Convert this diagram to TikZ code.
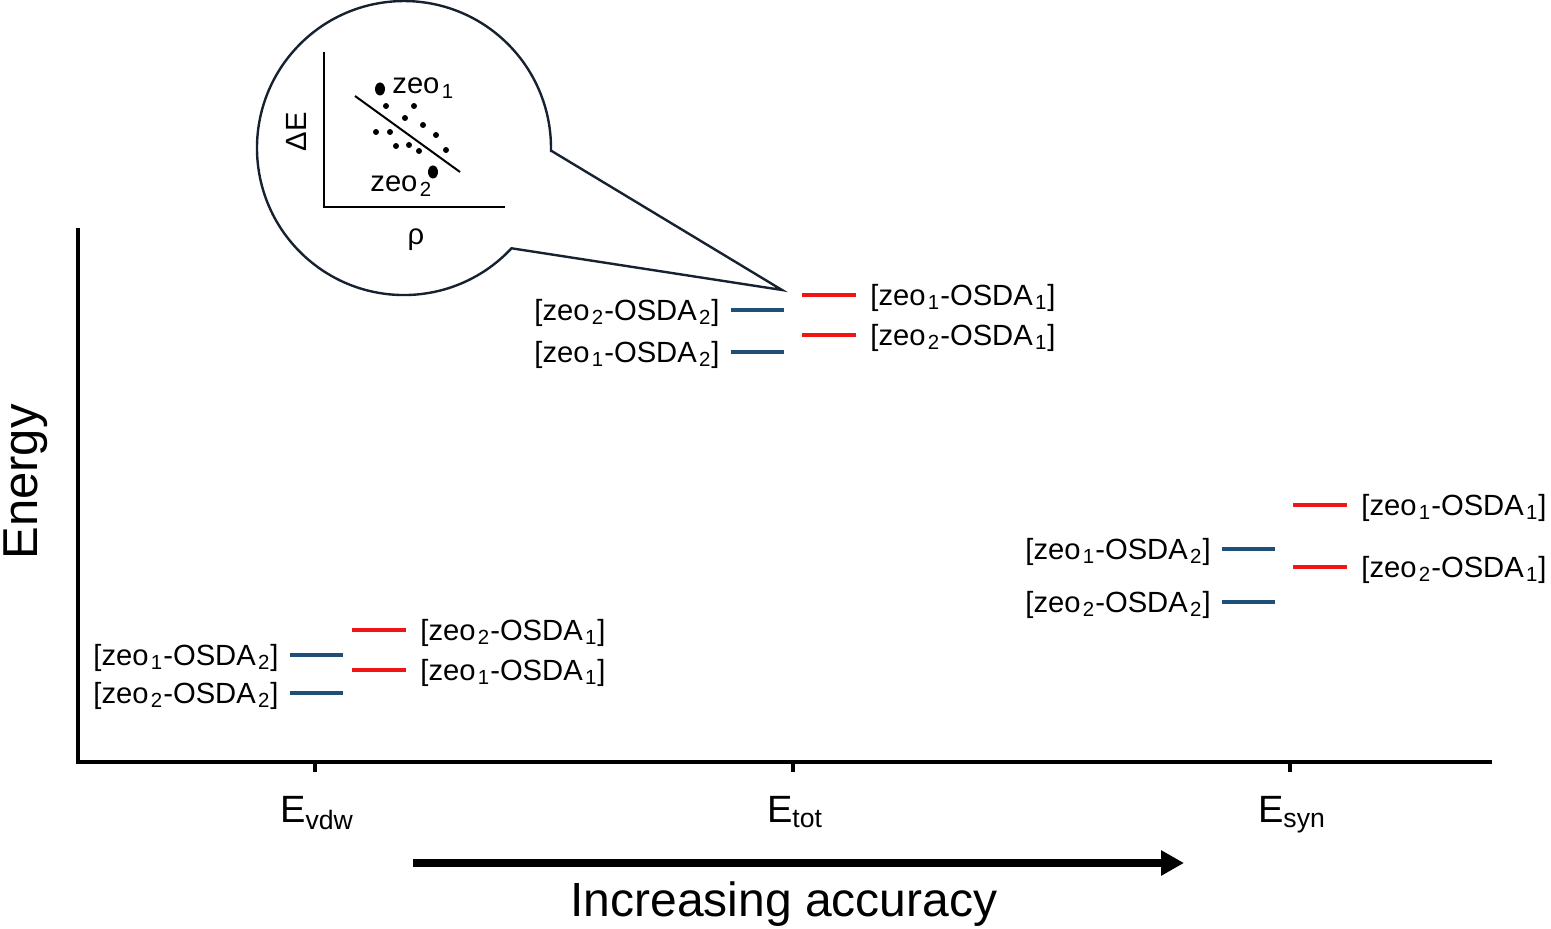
\documentclass[tikz,border=0pt]{standalone}
\usepackage{fontspec}
\setmainfont{Liberation Sans}
\usepackage{tikz}
\usetikzlibrary{arrows.meta}
\definecolor{bleu}{RGB}{31,78,121}
\definecolor{rouge}{RGB}{240,20,20}
\definecolor{encre}{RGB}{22,34,48}
\newcommand{\ind}[1]{\kern.08em\textsubscript{#1}}

\begin{document}
\begin{tikzpicture}[x=0.5pt,y=-0.5pt,
    niv/.style={line width=2.4pt},
    lab/.style={font=\fontsize{14.6}{18}\selectfont, inner sep=0pt}]
    \useasboundingbox (0,0) rectangle (1551,929);
    % axes
    \draw[line width=1.6pt] (78,228) -- (78,762) -- (1492,762);
    \foreach \x/\n in {315/vdw,793/tot,1290/syn} {
        \draw[line width=1.6pt] (\x,762) -- (\x,772);
        \node[font=\fontsize{19}{22}\selectfont, anchor=base] (E\n) at (\x+2,822) {E\textsubscript{\n}};
    }
    \node[font=\fontsize{24.5}{28}\selectfont, rotate=90, inner sep=0pt] (energie) at (26,482) {Energy};
    \node[font=\fontsize{24}{28}\selectfont, anchor=base] (precision) at (784,916) {Increasing accuracy};
    \coordinate (fa) at (413,863);
    \coordinate (fb) at (1184,863);
    \draw[line width=4pt, -{Triangle[length=11.5pt,width=12pt]}] (fa) -- (fb);
    % niveaux
    \foreach \x/\y/\z in {290/655/1, 290/693/2, 731/310/2, 731/352/1, 1222/549/1, 1222/602/2}
        \draw[niv, bleu] (\x+53,\y) -- (\x,\y) node[lab, text=black, left=4.5pt, yshift=-1.5pt] (b\x\y) {[zeo\ind{\z}-OSDA\ind{2}]};
    \foreach \x/\y/\z in {352/630/2, 352/670/1, 802/295/1, 802/335/2, 1293/505/1, 1293/567/2}
        \draw[niv, rouge] (\x,\y) -- (\x+54,\y) node[lab, text=black, right=6pt, yshift=-1.5pt] (r\x\y) {[zeo\ind{\z}-OSDA\ind{1}]};
    % loupe
    \draw[encre, line width=1.2pt, fill=white] (551,150.6) -- (782,290) -- (511.5,248.3) arc[start angle=43, end angle=361, radius=147] -- cycle;
    \draw[line width=1.4pt] (324,52) -- (324,207) -- (505,207);
    \draw[line width=1pt] (355,96) -- (460,172);
    \foreach \p in {(386,106),(414,106),(405,118),(423,125),(376,132),(390,132),(436,135),(396,146),(409,145),(446,150),(419,151)}
        \fill \p circle (3);
    \fill (380,89) ellipse [x radius=5, y radius=6.5];
    \fill (433,172) ellipse [x radius=5, y radius=6.5];
    \node[lab, anchor=base west] (z1) at (392,94) {zeo\ind{1}};
    \node[lab, anchor=base west] (z2) at (370,192) {zeo\ind{2}};
    \node[lab, rotate=90] (dE) at (296,132) {ΔE};
    \node[lab] (rho) at (416,240) {ρ};
\end{tikzpicture}
\end{document}
